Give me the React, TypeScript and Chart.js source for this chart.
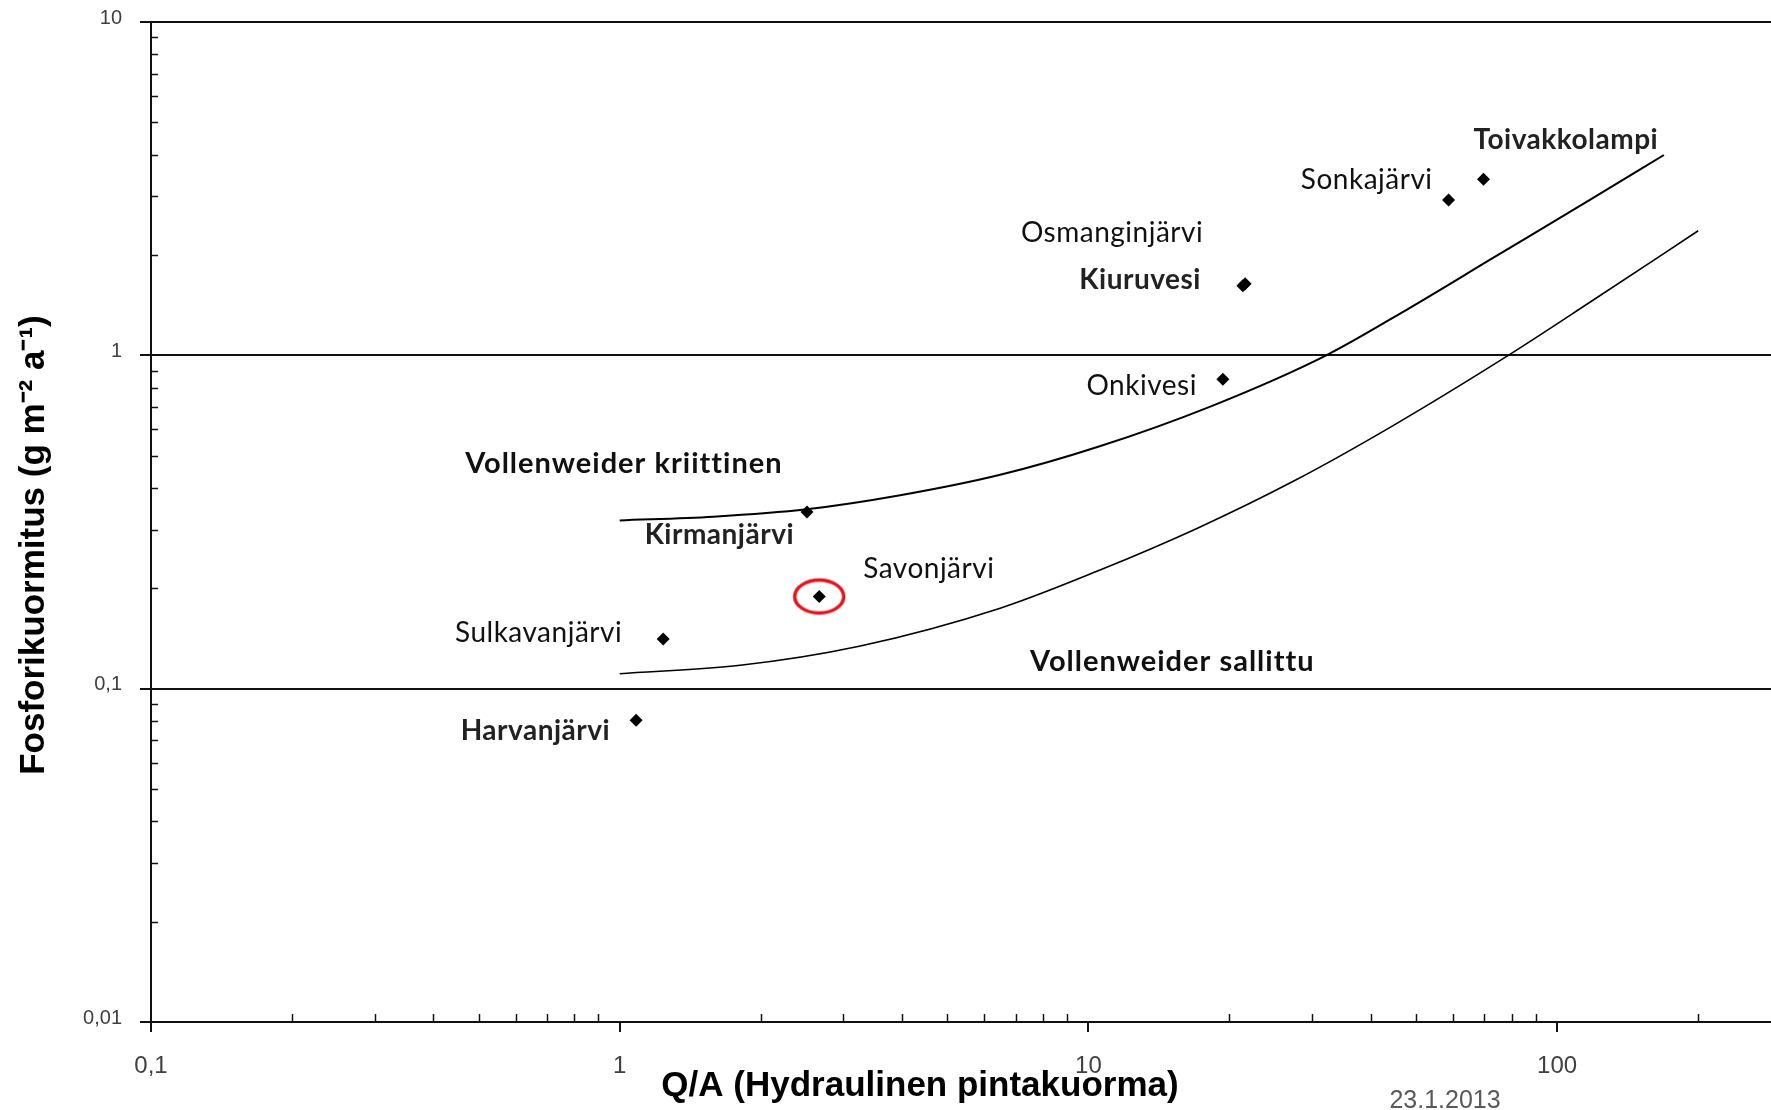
import React, { useEffect, useRef } from 'react';
import { Chart, registerables } from 'chart.js';

Chart.register(...registerables);

// ---- Data ----
const lakeNames = ['Harvanjärvi', 'Sulkavanjärvi', 'Kirmanjärvi', 'Savonjärvi', 'Onkivesi', 'Kiuruvesi', 'Osmanginjärvi', 'Sonkajärvi', 'Toivakkolampi'];
const lakeQA = [1.084, 1.238, 2.51, 2.665, 19.36, 21.36, 21.6, 58.67, 69.66];
const lakeLoad = [0.0804, 0.141, 0.339, 0.189, 0.848, 1.616, 1.64, 2.926, 3.376];
const highlightedLake = 'Savonjärvi';

const criticalQA = [1, 1.583, 2.506, 3.968, 6.484, 10.49, 18.37, 32.17, 48.12, 72.55, 117.7, 169];
const criticalLoad = [0.3197, 0.328, 0.3452, 0.3803, 0.438, 0.5316, 0.7056, 1.0, 1.379, 1.95, 2.931, 3.99];

const permissibleQA = [1, 1.807, 3.243, 6.484, 10.49, 17.04, 27.62, 44.77, 78.97, 117.7, 200];
const permissibleLoad = [0.1109, 0.1175, 0.134, 0.1743, 0.2257, 0.3024, 0.4218, 0.6166, 1.003, 1.445, 2.364];

const regionLabels = ['Vollenweider kriittinen', 'Vollenweider sallittu'];
const regionQA = [0.468, 7.51];
const regionLoad = [0.444, 0.1132];

const xTickValues = [0.1, 1, 10, 100];
const xTickLabels = ['0,1', '1', '10', '100'];
const yTickValues = [0.01, 0.1, 1, 10];
const yTickLabels = ['0,01', '0,1', '1', '10'];
const xMinorTicks = [0.2, 0.3, 0.4, 0.5, 0.6, 0.7, 0.8, 0.9, 2, 3, 4, 5, 6, 7, 8, 9, 20, 30, 40, 50, 60, 70, 80, 90, 200];
const yMinorTicks = [0.02, 0.03, 0.04, 0.05, 0.06, 0.07, 0.08, 0.09, 0.2, 0.3, 0.4, 0.5, 0.6, 0.7, 0.8, 0.9, 2, 3, 4, 5, 6, 7, 8, 9];

const xTitle = 'Q/A (Hydraulinen pintakuorma)';
const yTitle = 'Fosforikuormitus (g m\u207B\u00B2 a\u207B\u00B9)';
const dateText = '23.1.2013';

// ---- Styles (label placement relative to each lake's point, in px) ----
const lakeLabelStyle = [
  { dx: -26, dy: 20, align: 'right', bold: true },
  { dx: -41, dy: 3, align: 'right', bold: false },
  { dx: -13, dy: 32, align: 'right', bold: true },
  { dx: 44, dy: -19, align: 'left', bold: false },
  { dx: -26, dy: 16, align: 'right', bold: false },
  { dx: -42, dy: 3, align: 'right', bold: true },
  { dx: -42, dy: -42, align: 'right', bold: false },
  { dx: -16, dy: -11, align: 'right', bold: false },
  { dx: -10, dy: -30, align: 'left', bold: true },
];

const SANS = '"Liberation Sans", Arial, sans-serif';
const LABEL = 'Lato, "Open Sans", sans-serif';

const minorTicksPlugin = {
  id: 'minorTicks',
  afterDraw(chart: any) {
    const { ctx, chartArea, scales } = chart;
    const x = scales.x;
    const y = scales.y;
    ctx.save();
    ctx.strokeStyle = '#111';
    ctx.lineWidth = 1.5;
    xMinorTicks.forEach((v) => {
      const px = Math.round(x.getPixelForValue(v)) + 0.5;
      ctx.beginPath();
      ctx.moveTo(px, chartArea.bottom);
      ctx.lineTo(px, chartArea.bottom - 8);
      ctx.stroke();
    });
    yMinorTicks.forEach((v) => {
      const py = Math.round(y.getPixelForValue(v)) + 0.5;
      ctx.beginPath();
      ctx.moveTo(chartArea.left, py);
      ctx.lineTo(chartArea.left + 7, py);
      ctx.stroke();
    });
    ctx.restore();
  },
};

const textPlugin = {
  id: 'textLabels',
  afterDatasetsDraw(chart: any) {
    const { ctx, scales } = chart;
    const x = scales.x;
    const y = scales.y;
    ctx.save();
    ctx.textBaseline = 'alphabetic';
    ctx.letterSpacing = '0.5px';
    lakeNames.forEach((name, i) => {
      const st = lakeLabelStyle[i];
      const px = x.getPixelForValue(lakeQA[i]);
      const py = y.getPixelForValue(lakeLoad[i]);
      ctx.font = `${st.bold ? 'bold ' : ''}28px ${LABEL}`;
      ctx.fillStyle = st.bold ? '#222' : '#111';
      ctx.textAlign = st.align;
      ctx.fillText(name, px + st.dx, py + st.dy);
    });
    ctx.fillStyle = '#111';
    ctx.font = `bold 29px ${LABEL}`;
    ctx.letterSpacing = '1px';
    ctx.textAlign = 'left';
    regionLabels.forEach((t, i) => {
      ctx.fillText(t, x.getPixelForValue(regionQA[i]), y.getPixelForValue(regionLoad[i]));
    });
    ctx.restore();
  },
  afterDraw(chart: any) {
    const { ctx } = chart;
    ctx.save();
    ctx.fillStyle = '#000';
    ctx.font = `bold 35px ${SANS}`;
    ctx.textAlign = 'center';
    ctx.textBaseline = 'alphabetic';
    ctx.fillText(xTitle, 920, 1096);
    ctx.save();
    ctx.translate(44, 545);
    ctx.rotate(-Math.PI / 2);
    ctx.fillText(yTitle, 0, 0);
    ctx.restore();
    ctx.fillStyle = '#595959';
    ctx.font = `25px ${SANS}`;
    ctx.fillText(dateText, 1445, 1108);
    ctx.restore();
  },
};

function makeEllipse(): HTMLCanvasElement {
  const c = document.createElement('canvas');
  c.width = 56;
  c.height = 40;
  const g = c.getContext('2d')!;
  g.strokeStyle = '#e3141b';
  g.lineWidth = 3.5;
  g.beginPath();
  g.ellipse(28, 20, 24.5, 16.5, 0, 0, Math.PI * 2);
  g.stroke();
  return c;
}

export default function App() {
  const ref = useRef<HTMLCanvasElement>(null);

  useEffect(() => {
    if (!ref.current) return;
    const hi = lakeNames.indexOf(highlightedLake);
    const chart = new Chart(ref.current, {
      type: 'scatter',
      data: {
        datasets: [
          {
            label: 'Vollenweider kriittinen',
            data: criticalQA.map((v, i) => ({ x: v, y: criticalLoad[i] })),
            showLine: true,
            borderColor: '#000',
            borderWidth: 2,
            pointRadius: 0,
            cubicInterpolationMode: 'monotone',
            fill: false,
          },
          {
            label: 'Vollenweider sallittu',
            data: permissibleQA.map((v, i) => ({ x: v, y: permissibleLoad[i] })),
            showLine: true,
            borderColor: '#000',
            borderWidth: 1.6,
            pointRadius: 0,
            cubicInterpolationMode: 'monotone',
            fill: false,
          },
          {
            label: 'Järvet',
            data: lakeQA.map((v, i) => ({ x: v, y: lakeLoad[i] })),
            pointStyle: 'rectRot',
            pointRadius: 6.5,
            backgroundColor: '#000',
            borderColor: '#000',
            borderWidth: 0,
          },
          {
            label: highlightedLake,
            data: [{ x: lakeQA[hi], y: lakeLoad[hi] }],
            pointStyle: makeEllipse(),
            pointRadius: 20,
            borderWidth: 0,
          },
        ] as any,
      },
      options: {
        responsive: false,
        animation: false,
        events: [],
        layout: { autoPadding: false, padding: { top: 22, right: 0, left: 0, bottom: 0 } },
        plugins: { legend: { display: false }, tooltip: { enabled: false } },
        scales: {
          x: {
            type: 'logarithmic',
            position: 'bottom',
            min: 0.1,
            max: 286,
            afterBuildTicks: (s: any) => {
              s.ticks = xTickValues.map((v) => ({ value: v }));
            },
            afterFit: (s: any) => {
              s.height = 88;
              s.paddingLeft = 0;
              s.paddingRight = 0;
            },
            ticks: {
              callback: (_v: any, i: number) => xTickLabels[i],
              font: { family: SANS, size: 24 },
              color: '#404040',
              padding: 20,
              maxRotation: 0,
              autoSkip: false,
            },
            grid: { drawOnChartArea: false, drawTicks: true, tickLength: 10, color: '#111', lineWidth: 2 },
            border: { display: true, color: '#111', width: 2 },
          },
          y: {
            type: 'logarithmic',
            position: 'left',
            min: 0.01,
            max: 10,
            afterBuildTicks: (s: any) => {
              s.ticks = yTickValues.map((v) => ({ value: v }));
            },
            afterFit: (s: any) => {
              s.width = 151;
              s.paddingTop = 0;
              s.paddingBottom = 0;
            },
            ticks: {
              callback: (_v: any, i: number) => yTickLabels[i],
              font: { family: SANS, size: 20 },
              color: '#404040',
              padding: 18,
              labelOffset: -4,
              autoSkip: false,
            },
            grid: { drawOnChartArea: true, drawTicks: true, tickLength: 11, color: '#111', lineWidth: 2 },
            border: { display: true, color: '#111', width: 2 },
          },
        },
      } as any,
      plugins: [minorTicksPlugin, textPlugin],
    });
    return () => chart.destroy();
  }, []);

  return (
    <div style={{ position: 'fixed', left: 0, top: 0, width: 1771, height: 1110, background: '#fff' }}>
      <canvas ref={ref} width={1771} height={1110} style={{ display: 'block' }} />
    </div>
  );
}
